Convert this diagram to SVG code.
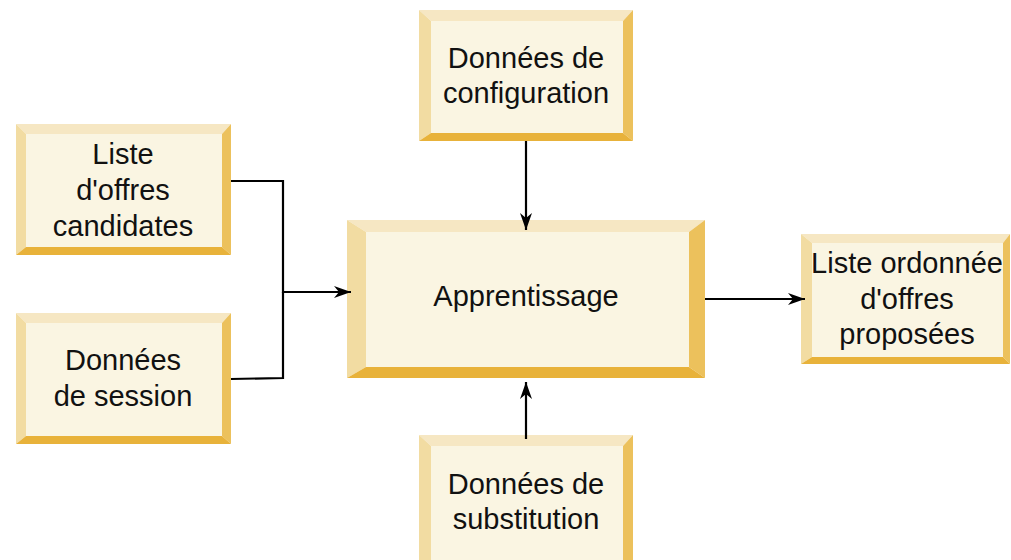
<svg xmlns="http://www.w3.org/2000/svg" width="1011" height="560" viewBox="0 0 1011 560">
<defs>
<style>
.t{fill:#f6e7c3}.l{fill:#f2dca2}.r{fill:#ecc15c}.b{fill:#e8b23a}.c{fill:#faf5e2}
text{font-family:"Liberation Sans",Arial,sans-serif;font-size:29px;fill:#111;text-anchor:middle}
.e{fill:none;stroke:#000;stroke-width:2.2}
</style>
<marker id="arr" markerUnits="userSpaceOnUse" viewBox="0 0 18 14" markerWidth="18" markerHeight="14" refX="17" refY="7" orient="auto">
<path d="M0,1 L17,7 L0,13 L5,7 z" fill="#000"/>
</marker>
</defs>
<rect width="1011" height="560" fill="#fff"/>
<g id="liste-offres">
<polygon class="t" points="16,124 231,124 222,134 26,134"/>
<polygon class="l" points="16,124 26,134 26,247 16,255"/>
<polygon class="r" points="231,124 231,255 222,247 222,134"/>
<polygon class="b" points="16,255 26,247 222,247 231,255"/>
<rect class="c" x="26" y="134" width="196" height="113"/>
<text x="123" y="164">Liste</text>
<text x="123" y="200">d'offres</text>
<text x="123" y="236">candidates</text>
</g>
<g id="donnees-session">
<polygon class="t" points="16,313 231,313 222,323 26,323"/>
<polygon class="l" points="16,313 26,323 26,436 16,444"/>
<polygon class="r" points="231,313 231,444 222,436 222,323"/>
<polygon class="b" points="16,444 26,436 222,436 231,444"/>
<rect class="c" x="26" y="323" width="196" height="113"/>
<text x="123" y="370">Données</text>
<text x="123" y="406">de session</text>
</g>
<g id="donnees-configuration">
<polygon class="t" points="419,10 633,10 623,21 431,21"/>
<polygon class="l" points="419,10 431,21 431,133 419,141"/>
<polygon class="r" points="633,10 633,141 623,133 623,21"/>
<polygon class="b" points="419,141 431,133 623,133 633,141"/>
<rect class="c" x="431" y="21" width="192" height="112"/>
<text x="526" y="68">Données de</text>
<text x="526" y="103">configuration</text>
</g>
<g id="apprentissage">
<polygon class="t" points="347,220 705,220 689,232 366,232"/>
<polygon class="l" points="347,220 366,232 366,367 347,378"/>
<polygon class="r" points="705,220 705,378 689,367 689,232"/>
<polygon class="b" points="347,378 366,367 689,367 705,378"/>
<rect class="c" x="366" y="232" width="323" height="135"/>
<text x="526" y="306">Apprentissage</text>
</g>
<g id="liste-ordonnee">
<polygon class="t" points="801,234 1010,234 1003,243 812,243"/>
<polygon class="l" points="801,234 812,243 812,357 801,364"/>
<polygon class="r" points="1010,234 1010,364 1003,357 1003,243"/>
<polygon class="b" points="801,364 812,357 1003,357 1010,364"/>
<rect class="c" x="812" y="243" width="191" height="114"/>
<text x="907" y="273">Liste ordonnée</text>
<text x="907" y="309">d'offres</text>
<text x="907" y="344">proposées</text>
</g>
<g id="donnees-substitution">
<polygon class="t" points="419,435 633,435 623,446 431,446"/>
<polygon class="l" points="419,435 431,446 431,562 419,570"/>
<polygon class="r" points="633,435 633,570 623,562 623,446"/>
<rect class="c" x="431" y="446" width="192" height="120"/>
<text x="526" y="494">Données de</text>
<text x="526" y="529">substitution</text>
</g>
<g id="connectors">
<path class="e" d="M526,141 L526,230" marker-end="url(#arr)"/>
<path class="e" d="M231,181 L283,181 L283,292 L351,292" marker-end="url(#arr)"/>
<path class="e" d="M231,379 L283,378 L283,292"/>
<path class="e" d="M705,299 L805,299" marker-end="url(#arr)"/>
<path class="e" d="M526,439 L526,382" marker-end="url(#arr)"/>
</g>
</svg>
